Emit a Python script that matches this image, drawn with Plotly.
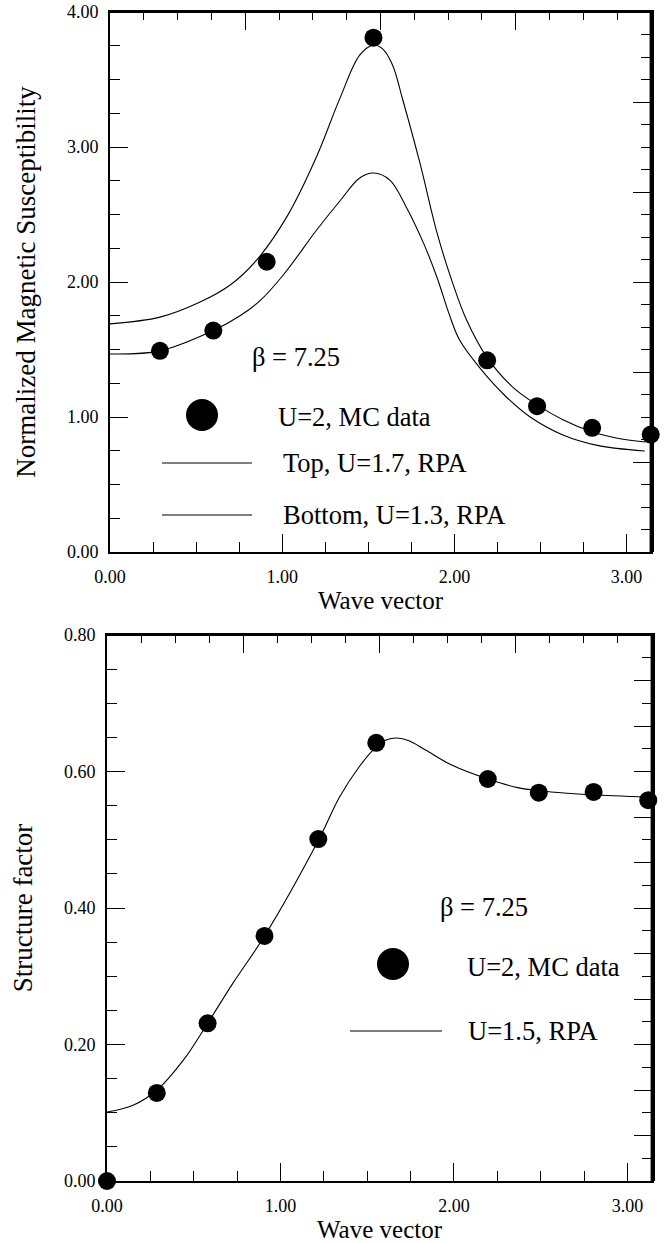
import math
import plotly.graph_objects as go

PI = math.pi

# ---------------- data ----------------
# Top panel: normalized magnetic susceptibility
sus_q = [0.29, 0.60, 0.91, 1.53, 2.19, 2.48, 2.80, 3.14]
sus_mc = [1.49, 1.64, 2.15, 3.81, 1.42, 1.08, 0.92, 0.87]

rpa17_q = [0.00, 0.29, 0.52, 0.70, 0.85, 1.03, 1.20, 1.335, 1.45, 1.53, 1.58, 1.64, 1.70,
           1.80, 1.90, 1.985, 2.07, 2.19, 2.34, 2.48, 2.63, 2.80, 2.94, 3.11]
rpa17_chi = [1.69, 1.74, 1.85, 1.98, 2.16, 2.49, 2.93, 3.36, 3.68, 3.755, 3.73, 3.61, 3.35,
             2.88, 2.36, 2.01, 1.72, 1.44, 1.22, 1.09, 0.98, 0.89, 0.845, 0.815]

rpa13_q = [0.00, 0.29, 0.60, 0.755, 0.87, 1.005, 1.20, 1.335, 1.45, 1.53, 1.625, 1.72,
           1.82, 1.90, 1.97, 2.03, 2.15, 2.30, 2.44, 2.63, 2.83, 3.105]
rpa13_chi = [1.467, 1.49, 1.64, 1.75, 1.86, 2.05, 2.385, 2.60, 2.77, 2.807, 2.755, 2.556,
             2.29, 2.03, 1.76, 1.57, 1.36, 1.15, 1.00, 0.867, 0.79, 0.748]

# Bottom panel: structure factor
sf_q = [0.00, 0.287, 0.58, 0.908, 1.218, 1.552, 2.195, 2.489, 2.805, 3.12]
sf_mc = [0.00, 0.129, 0.231, 0.359, 0.501, 0.642, 0.589, 0.569, 0.570, 0.558]

rpa15_q = [0.00, 0.15, 0.287, 0.44, 0.58, 0.726, 0.908, 1.224, 1.339, 1.454, 1.552,
           1.609, 1.672, 1.741, 1.839, 1.99, 2.195, 2.374, 2.56, 2.79, 3.12]
rpa15_s = [0.101, 0.111, 0.133, 0.177, 0.231, 0.29, 0.359, 0.502, 0.562, 0.607, 0.636,
           0.646, 0.649, 0.645, 0.631, 0.609, 0.589, 0.576, 0.570, 0.566, 0.5625]

# text
top_ylabel = "Normalized Magnetic Susceptibility"
bot_ylabel = "Structure factor"
xlabel = "Wave vector"
beta_text = "β = 7.25"
mc_text = "U=2, MC data"
top_text = "Top, U=1.7, RPA"
bottom_text = "Bottom, U=1.3, RPA"
rpa15_text = "U=1.5, RPA"

# ---------------- figure ----------------
W, H = 666, 1243
FONT = "Liberation Serif"


def px(x):
    return x / W


def py(y):
    return 1 - y / H


fig = go.Figure()

line_style = dict(color="black", width=1.1, shape="spline", smoothing=1.0)
marker_style = dict(color="black", size=18, line=dict(width=0))

fig.add_trace(go.Scatter(x=rpa17_q, y=rpa17_chi, mode="lines", line=line_style,
                         xaxis="x", yaxis="y", name=top_text, showlegend=False))
fig.add_trace(go.Scatter(x=rpa13_q, y=rpa13_chi, mode="lines", line=line_style,
                         xaxis="x", yaxis="y", name=bottom_text, showlegend=False))
# markers live on the (identically scaled) top/right frame axes so those get drawn
fig.add_trace(go.Scatter(x=sus_q, y=sus_mc, mode="markers", marker=marker_style,
                         xaxis="x3", yaxis="y3", name=mc_text, showlegend=False,
                         cliponaxis=False))

fig.add_trace(go.Scatter(x=rpa15_q, y=rpa15_s, mode="lines", line=line_style,
                         xaxis="x2", yaxis="y2", name=rpa15_text, showlegend=False))
fig.add_trace(go.Scatter(x=sf_q, y=sf_mc, mode="markers", marker=marker_style,
                         xaxis="x4", yaxis="y4", name=mc_text, showlegend=False,
                         cliponaxis=False))

top_dom_x = [px(110), px(651)]
top_dom_y = [py(552), py(12)]
bot_dom_x = [px(107), px(652)]
bot_dom_y = [py(1181), py(635)]

tickfont = dict(family=FONT, size=18, color="black")


def main_x(domain, anchor):
    return dict(domain=domain, anchor=anchor, range=[0, PI], showgrid=False, zeroline=False,
                automargin=False, mirror=True,
                showline=True, linecolor="black", linewidth=1.6,
                ticks="inside", ticklen=18, tickwidth=1, tickcolor="black",
                tick0=0, dtick=1, tickformat=".2f", tickfont=tickfont,
                ticklabelstandoff=8,
                minor=dict(ticks="inside", ticklen=10, tickwidth=1, tickcolor="black", dtick=0.25),
                title=dict(text=xlabel, font=dict(family=FONT, size=25, color="black"), standoff=2))


def main_y(domain, anchor, rng, dtick, mdtick, title):
    return dict(domain=domain, anchor=anchor, range=rng, showgrid=False, zeroline=False,
                automargin=False, mirror=True,
                showline=True, linecolor="black", linewidth=1.6,
                ticks="inside", ticklen=18, tickwidth=1, tickcolor="black",
                tick0=0, dtick=dtick, tickformat=".2f", tickfont=tickfont,
                ticklabelstandoff=6,
                minor=dict(ticks="inside", ticklen=10, tickwidth=1, tickcolor="black", dtick=mdtick),
                title=dict(text=title, font=dict(family=FONT, size=27, color="black"), standoff=24))


def top_x(domain, anchor):
    return dict(domain=domain, anchor=anchor, side="top", range=[0, PI],
                automargin=False,
                showgrid=False, zeroline=False, showline=True, linecolor="black", linewidth=1.7,
                ticks="inside", ticklen=18, tickwidth=1.2, tickcolor="black",
                tick0=0, dtick=PI / 4, showticklabels=False,
                minor=dict(ticks="inside", ticklen=8, tickwidth=1, tickcolor="black", dtick=PI / 16))


def right_y(domain, anchor, rng, nmaj):
    span = rng[1] - rng[0]
    return dict(domain=domain, anchor=anchor, side="right", range=rng,
                automargin=False,
                showgrid=False, zeroline=False, showline=True, linecolor="black", linewidth=2.6,
                ticks="inside", ticklen=18, tickwidth=1.2, tickcolor="black",
                tick0=0, dtick=span / nmaj, showticklabels=False,
                minor=dict(ticks="inside", ticklen=10, tickwidth=1, tickcolor="black", dtick=span / 24))


fig.update_layout(
    width=W, height=H,
    margin=dict(l=0, r=0, t=0, b=0, pad=0, autoexpand=False),
    paper_bgcolor="white", plot_bgcolor="rgba(0,0,0,0)",
    font=dict(family=FONT, color="black"),
    showlegend=False,
    xaxis=main_x(top_dom_x, "y"),
    yaxis=main_y(top_dom_y, "x", [0, 4], 1, 0.25, top_ylabel),
    xaxis2=main_x(bot_dom_x, "y2"),
    yaxis2=main_y(bot_dom_y, "x2", [0, 0.8], 0.2, 0.05, bot_ylabel),
    xaxis3=top_x(top_dom_x, "y3"),
    yaxis3=right_y(top_dom_y, "x3", [0, 4], 6),
    xaxis4=top_x(bot_dom_x, "y4"),
    yaxis4=right_y(bot_dom_y, "x4", [0, 0.8], 12),
)

# frame edges on top and right (heavier right edge, as in the original)
for dom_x, dom_y in ((top_dom_x, top_dom_y), (bot_dom_x, bot_dom_y)):
    fig.add_shape(type="line", xref="paper", yref="paper",
                  x0=dom_x[1], x1=dom_x[1], y0=dom_y[0], y1=dom_y[1],
                  line=dict(color="black", width=2.8))
    fig.add_shape(type="line", xref="paper", yref="paper",
                  x0=dom_x[0], x1=dom_x[1], y0=dom_y[1], y1=dom_y[1],
                  line=dict(color="black", width=1.8))

# ---------------- in-plot legends ----------------
legfont = dict(family=FONT, size=26.5, color="black")


def label(text, x, y):
    fig.add_annotation(text=text, xref="paper", yref="paper", x=px(x), y=py(y),
                       xanchor="left", yanchor="middle", showarrow=False, font=legfont)


def dot(cx, cy, r=16):
    fig.add_shape(type="circle", xref="paper", yref="paper",
                  x0=px(cx - r), x1=px(cx + r), y0=py(cy + r), y1=py(cy - r),
                  fillcolor="black", line=dict(color="black", width=0))


def sample_line(x0, x1, y):
    fig.add_shape(type="line", xref="paper", yref="paper",
                  x0=px(x0), x1=px(x1), y0=py(y), y1=py(y),
                  line=dict(color="black", width=1.1))


# top panel
label(beta_text, 250, 357)
dot(202, 415)
label(mc_text, 276, 417)
sample_line(162, 252, 463)
label(top_text, 281, 463)
sample_line(162, 252, 515)
label(bottom_text, 281, 515)

# bottom panel
label(beta_text, 438, 907)
dot(393, 964)
label(mc_text, 465, 967)
sample_line(350, 442, 1031)
label(rpa15_text, 466, 1031)

fig.write_html("out.html")
